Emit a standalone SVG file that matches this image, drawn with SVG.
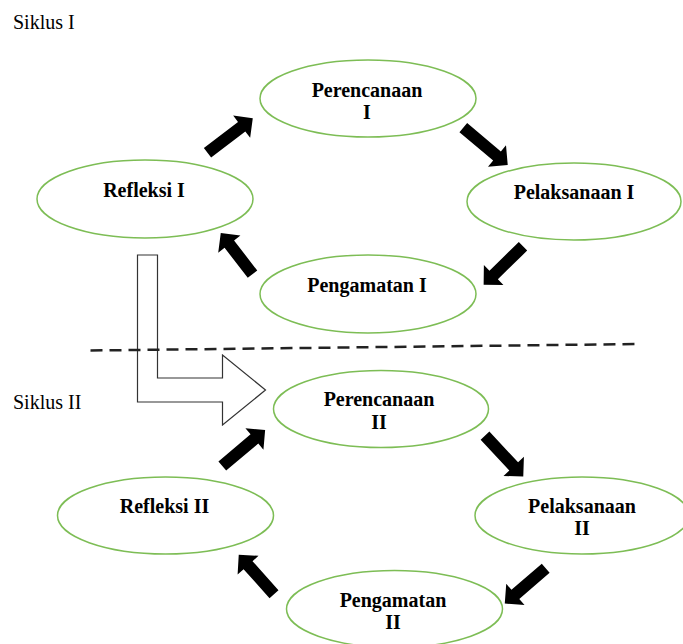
<svg xmlns="http://www.w3.org/2000/svg" width="683" height="644" viewBox="0 0 683 644">
<style>
.n ellipse{fill:#fff;stroke:#7dbd55;stroke-width:1.5}
.t{font-family:"Liberation Serif","Times New Roman",serif;font-size:20px;font-weight:bold;text-anchor:middle;fill:#000}
.lbl{font-family:"Liberation Serif","Times New Roman",serif;font-size:20px;fill:#000}
.ar{fill:#000}
</style>
<rect width="683" height="644" fill="#fff"/>
<text class="lbl" x="13" y="29">Siklus I</text>
<text class="lbl" x="13" y="409">Siklus II</text>

<g id="n-perencanaan1" class="n"><ellipse cx="368" cy="98.5" rx="108" ry="38.5"/><text class="t" x="367" y="97">Perencanaan</text><text class="t" x="367" y="118.5">I</text></g>
<g id="n-pelaksanaan1" class="n"><ellipse cx="574" cy="201.5" rx="107" ry="38.5"/><text class="t" x="574" y="199">Pelaksanaan I</text></g>
<g id="n-pengamatan1" class="n"><ellipse cx="368" cy="294" rx="108" ry="39"/><text class="t" x="367" y="291.5">Pengamatan I</text></g>
<g id="n-refleksi1" class="n"><ellipse cx="145" cy="199" rx="108" ry="39"/><text class="t" x="144" y="197">Refleksi I</text></g>

<g id="n-perencanaan2" class="n"><ellipse cx="381" cy="409" rx="107.5" ry="38.5"/><text class="t" x="379" y="406">Perencanaan</text><text class="t" x="379" y="428.5">II</text></g>
<g id="n-pelaksanaan2" class="n"><ellipse cx="582" cy="515.5" rx="107" ry="38.5"/><text class="t" x="582" y="512.5">Pelaksanaan</text><text class="t" x="582" y="535">II</text></g>
<g id="n-pengamatan2" class="n"><ellipse cx="394.5" cy="609" rx="108" ry="38.5"/><text class="t" x="393" y="606.5">Pengamatan</text><text class="t" x="393" y="629">II</text></g>
<g id="n-refleksi2" class="n"><ellipse cx="165.5" cy="515.5" rx="108" ry="38.5"/><text class="t" x="164.5" y="512.5">Refleksi II</text></g>

<g id="connectors">
<path d="M137.5,255 H157.5 V378 H222.5 V355 L265.5,390 L222.5,425 V402 H137.5 Z" fill="#fff" stroke="#333" stroke-width="1.2"/>
<line x1="90.5" y1="350.5" x2="639" y2="344" stroke="#222" stroke-width="2.5" stroke-dasharray="12 7"/>
<path class="ar" transform="translate(207.5,152.8) rotate(-37.4)" d="M0,-6 H43 V-14 L57,0 L43,14 V6 H0 Z"/>
<path class="ar" transform="translate(463.3,127.7) rotate(40)" d="M0,-6 H44 V-14 L58,0 L44,14 V6 H0 Z"/>
<path class="ar" transform="translate(523,246.3) rotate(135.7)" d="M0,-6 H41 V-14 L55,0 L41,14 V6 H0 Z"/>
<path class="ar" transform="translate(252.5,274.2) rotate(-127.6)" d="M0,-6 H38 V-14 L52,0 L38,14 V6 H0 Z"/>
<path class="ar" transform="translate(222.3,466) rotate(-40.1)" d="M0,-6 H42 V-14 L56,0 L42,14 V6 H0 Z"/>
<path class="ar" transform="translate(485,435.7) rotate(46.9)" d="M0,-6 H42 V-14 L56,0 L42,14 V6 H0 Z"/>
<path class="ar" transform="translate(545.7,568.3) rotate(139.3)" d="M0,-6 H40 V-14 L54,0 L40,14 V6 H0 Z"/>
<path class="ar" transform="translate(274,594.3) rotate(-131.7)" d="M0,-6 H39 V-14 L53,0 L39,14 V6 H0 Z"/>
</g>
</svg>
